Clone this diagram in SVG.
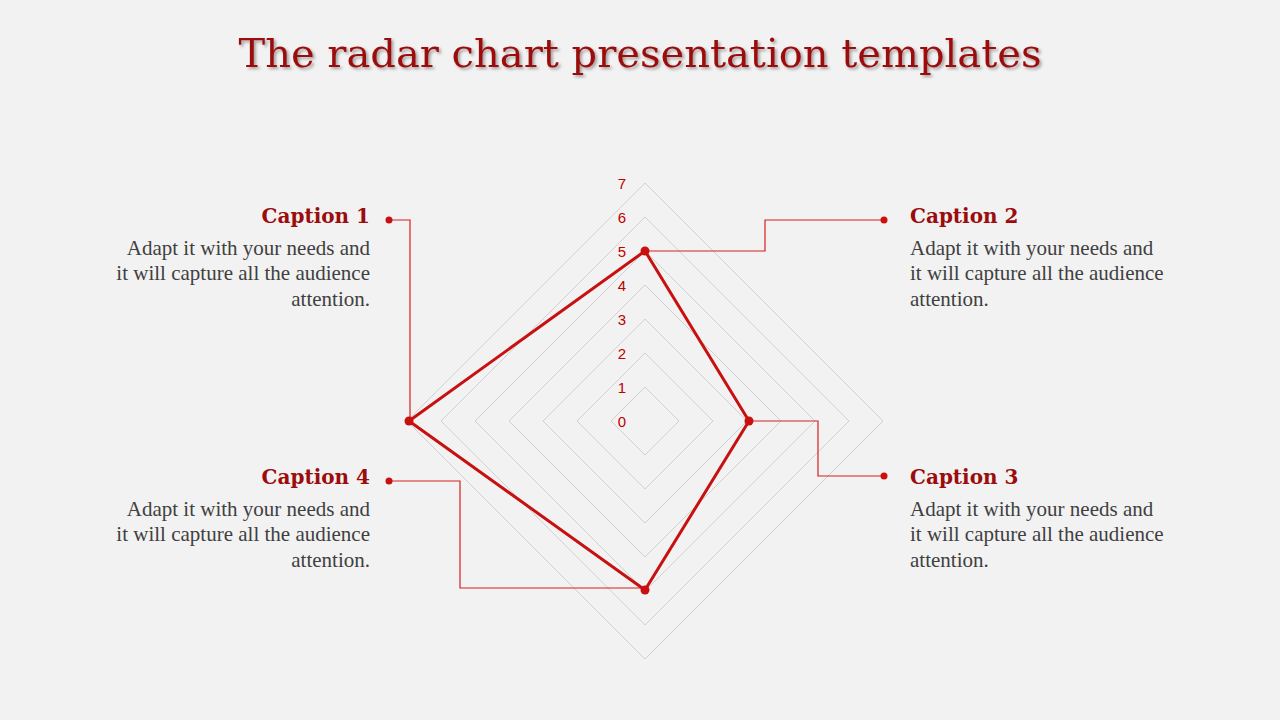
<svg xmlns="http://www.w3.org/2000/svg" width="1280" height="720" viewBox="0 0 1280 720">
<defs>
<style>
.t{font-family:"DejaVu Serif","Liberation Serif",serif;}
.cap{font-family:"DejaVu Serif","Liberation Serif",serif;font-weight:bold;font-size:20px;fill:#9b0d0d;}
.body{font-family:"Liberation Serif",serif;font-size:21px;fill:#404040;}
.grid{fill:none;stroke:#d0d0d0;stroke-width:1;}
.ax{font-family:"Liberation Sans",sans-serif;font-size:15px;fill:#c00000;text-anchor:middle;}
.con{fill:none;stroke:#d42020;stroke-width:1.2;}
.dot{fill:#c81010;}
</style>
<filter id="sh"><feDropShadow dx="2" dy="2" stdDeviation="1.5" flood-color="#000" flood-opacity="0.35"/></filter>
</defs>
<rect width="1280" height="720" fill="#f2f2f2"/>
<text class="t" x="640" y="67" font-size="40" fill="#9b0d0d" text-anchor="middle" filter="url(#sh)">The radar chart presentation templates</text>
<g id="grid">
<polygon class="grid" points="645,387 679,421 645,455 611,421"/>
<polygon class="grid" points="645,353 713,421 645,489 577,421"/>
<polygon class="grid" points="645,319 747,421 645,523 543,421"/>
<polygon class="grid" points="645,285 781,421 645,557 509,421"/>
<polygon class="grid" points="645,251 815,421 645,591 475,421"/>
<polygon class="grid" points="645,217 849,421 645,625 441,421"/>
<polygon class="grid" points="645,183 883,421 645,659 407,421"/>
<text class="ax" x="622" y="427">0</text>
<text class="ax" x="622" y="393">1</text>
<text class="ax" x="622" y="359">2</text>
<text class="ax" x="622" y="325">3</text>
<text class="ax" x="622" y="291">4</text>
<text class="ax" x="622" y="257">5</text>
<text class="ax" x="622" y="223">6</text>
<text class="ax" x="622" y="189">7</text>
</g>
<g id="connectors">
<polyline class="con" points="389,220 410,220 410,421"/>
<polyline class="con" points="645,251 765,251 765,220 884,220"/>
<polyline class="con" points="749,421 818,421 818,476 884,476"/>
<polyline class="con" points="389,481 460,481 460,588 645,588"/>
</g>
<g id="series">
<polygon points="645,251 749,421 645,590 409,421" fill="none" stroke="#c81010" stroke-width="3" stroke-linejoin="round"/>
<circle class="dot" cx="645" cy="251" r="4.5"/>
<circle class="dot" cx="749" cy="421" r="4.5"/>
<circle class="dot" cx="645" cy="590" r="4.5"/>
<circle class="dot" cx="409" cy="421" r="4.5"/>
<circle class="dot" cx="389" cy="220" r="3.5"/>
<circle class="dot" cx="884" cy="220" r="3.5"/>
<circle class="dot" cx="884" cy="476" r="3.5"/>
<circle class="dot" cx="389" cy="481" r="3.5"/>
</g>
<g id="caption1" text-anchor="end">
<text class="cap" x="370" y="223">Caption 1</text>
<text class="body" x="370" y="255">Adapt it with your needs and</text>
<text class="body" x="370" y="280">it will capture all the audience</text>
<text class="body" x="370" y="306">attention.</text>
</g>
<g id="caption2">
<text class="cap" x="910" y="223">Caption 2</text>
<text class="body" x="910" y="255">Adapt it with your needs and</text>
<text class="body" x="910" y="280">it will capture all the audience</text>
<text class="body" x="910" y="306">attention.</text>
</g>
<g id="caption3">
<text class="cap" x="910" y="484">Caption 3</text>
<text class="body" x="910" y="516">Adapt it with your needs and</text>
<text class="body" x="910" y="541">it will capture all the audience</text>
<text class="body" x="910" y="567">attention.</text>
</g>
<g id="caption4" text-anchor="end">
<text class="cap" x="370" y="484">Caption 4</text>
<text class="body" x="370" y="516">Adapt it with your needs and</text>
<text class="body" x="370" y="541">it will capture all the audience</text>
<text class="body" x="370" y="567">attention.</text>
</g>
</svg>
